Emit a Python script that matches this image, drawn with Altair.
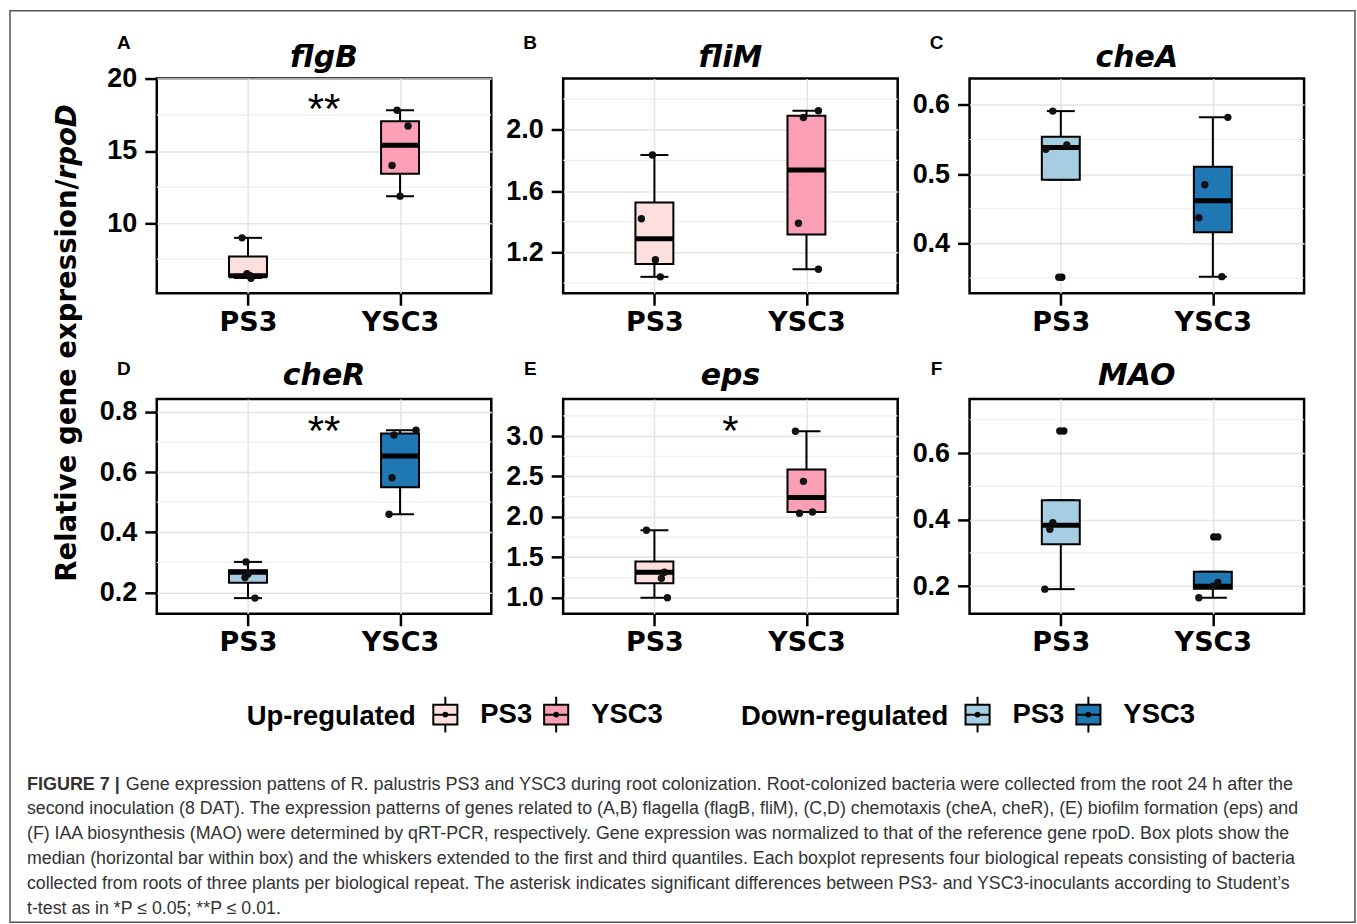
import altair as alt
import pandas as pd

FONT = "Liberation Sans"
WIDE = "DejaVu Sans"

genes = ["flgB", "fliM", "cheA", "cheR", "eps", "MAO"]
letters = ["A", "B", "C", "D", "E", "F"]
regulation = ["up", "up", "down", "down", "up", "down"]
strains = ["PS3", "YSC3"]
up_colors = ["#fde0dd", "#fa9fb5"]
down_colors = ["#a6cee3", "#1f78b4"]

# box statistics, order: flgB PS3, flgB YSC3, fliM PS3, ...
box_gene = [g for g in genes for _ in strains]
box_strain = strains * 6
box_lo = [6.20, 11.87, 1.040, 1.090, 0.492, 0.352, 0.182, 0.460, 1.000, 2.060, 0.191, 0.165]
box_q1 = [6.30, 13.42, 1.124, 1.317, 0.492, 0.416, 0.233, 0.550, 1.180, 2.060, 0.326, 0.192]
box_med = [6.35, 15.39, 1.289, 1.737, 0.5385, 0.4615, 0.268, 0.653, 1.315, 2.240, 0.383, 0.200]
box_q3 = [7.69, 17.06, 1.525, 2.091, 0.554, 0.5105, 0.274, 0.728, 1.450, 2.586, 0.458, 0.243]
box_hi = [8.98, 17.82, 1.835, 2.124, 0.591, 0.582, 0.302, 0.739, 1.835, 3.060, 0.458, 0.243]

# individual biological repeats (value, horizontal jitter)
pt_gene = [g for g in genes for _ in range(8)]
pt_strain = (["PS3"] * 4 + ["YSC3"] * 4) * 6
pt_value = [
    8.98, 6.50, 6.35, 6.18, 17.82, 16.73, 14.00, 11.87,
    1.835, 1.419, 1.152, 1.040, 2.124, 2.080, 1.390, 1.090,
    0.591, 0.536, 0.542, 0.351, 0.582, 0.4846, 0.437, 0.352,
    0.302, 0.262, 0.250, 0.182, 0.739, 0.723, 0.581, 0.460,
    1.835, 1.315, 1.240, 1.000, 3.060, 2.440, 2.045, 2.060,
    0.666, 0.391, 0.371, 0.191, 0.348, 0.211, 0.200, 0.165,
]
pt_jitter = [
    -6, -1, 2, 3, -3, 8, -8, 0,
    -2, -13, 1, 6, 12, -3, -8, 12,
    -8, -15, 6, -2, 15, -8, -14, 9,
    -2, 0, -3, 7, 16, -6, -8, -11,
    -8, 10, 7, 13, -11, -3, -7, 6,
    -1, -8, -11, -16, 5, 5, 0, -14,
]

out_gene = ["cheA", "MAO", "MAO"]
out_strain = ["PS3", "PS3", "YSC3"]
out_value = [0.351, 0.666, 0.348]
out_jitter = [1, 3, 1]

domains = [[5.14, 20.02], [0.933, 2.334], [0.328, 0.638], [0.130, 0.842], [0.802, 3.457], [0.117, 0.762]]
major = [[10, 15, 20], [1.2, 1.6, 2.0], [0.4, 0.5, 0.6], [0.2, 0.4, 0.6, 0.8],
         [1.0, 1.5, 2.0, 2.5, 3.0], [0.2, 0.4, 0.6]]
minor = [[7.5, 12.5, 17.5], [1.0, 1.4, 1.8, 2.2], [0.35, 0.45, 0.55], [0.3, 0.5, 0.7],
         [1.25, 1.75, 2.25, 2.75, 3.25], [0.3, 0.5, 0.7]]
fmts = ["d", ".1f", ".1f", ".1f", ".1f", ".1f"]
sig_label = ["**", "", "", "**", "*", ""]
sig_y = [16.94, 0, 0, 0.690, 2.889, 0]

caption_head = "FIGURE 7 |"
caption_first = ("Gene expression pattens of R. palustris PS3 and YSC3 during root colonization. "
                 "Root-colonized bacteria were collected from the root 24 h after the")
caption_rest = [
    "second inoculation (8 DAT). The expression patterns of genes related to (A,B) flagella (flagB, fliM), "
    "(C,D) chemotaxis (cheA, cheR), (E) biofilm formation (eps) and",
    "(F) IAA biosynthesis (MAO) were determined by qRT-PCR, respectively. Gene expression was normalized "
    "to that of the reference gene rpoD. Box plots show the",
    "median (horizontal bar within box) and the whiskers extended to the first and third quantiles. "
    "Each boxplot represents four biological repeats consisting of bacteria",
    "collected from roots of three plants per biological repeat. The asterisk indicates significant "
    "differences between PS3- and YSC3-inoculants according to Student\u2019s",
    "t-test as in *P \u2264 0.05; **P \u2264 0.01.",
]
ytitle_main = "Relative gene expression/"
ytitle_gene = "rpoD"

boxes = pd.DataFrame({"gene": box_gene, "strain": box_strain, "lo": box_lo, "q1": box_q1,
                      "med": box_med, "q3": box_q3, "hi": box_hi})
boxes["key"] = [regulation[genes.index(g)] + "|" + s for g, s in zip(box_gene, box_strain)]
points = pd.DataFrame({"gene": pt_gene, "strain": pt_strain, "v": pt_value, "jit": pt_jitter})
outliers = pd.DataFrame({"gene": out_gene, "strain": out_strain, "v": out_value, "jit": out_jitter})

W, H = 335, 215
BOX_PATH = ("M-0.67,-0.55H0.67V0.55H-0.67Z M0,-0.55V-1 M0,0.55V1 M-0.67,0H0.67 "
            "M-0.1,0A0.1,0.1 0 1,0 0.1,0A0.1,0.1 0 1,0 -0.1,0Z")
LABEL_EXPR = "split(datum.label, '|')[1]"

legend_up = alt.Legend(title="Up-regulated", orient="none", legendX=90, legendY=618, labelExpr=LABEL_EXPR)
legend_down = alt.Legend(title="Down-regulated", orient="none", legendX=585, legendY=618, labelExpr=LABEL_EXPR)


def one(text):
    return pd.DataFrame({"t": [text]})


def panel(i):
    g = genes[i]
    up = regulation[i] == "up"
    bx = boxes[boxes.gene == g]
    pts = points[points.gene == g]
    outl = outliers[outliers.gene == g]
    ysc = alt.Scale(domain=domains[i], nice=False, zero=False)
    yax = alt.Axis(title=None, values=major[i], format=fmts[i], grid=True, labelPadding=8)

    def Y(field):
        return alt.Y(field, scale=ysc, axis=yax)

    xenc = alt.X("strain:N", scale=alt.Scale(type="point", padding=0.6, domain=strains),
                 axis=alt.Axis(title=None, grid=True, labelAngle=0, labelPadding=4))
    layers = []
    layers.append(
        alt.Chart(pd.DataFrame({"v": minor[i]})).mark_rule(color="#eeeeee", strokeWidth=1.2).encode(
            y=Y("v:Q"))
    )
    layers.append(alt.Chart(bx).mark_rule(color="black", strokeWidth=2).encode(
        x=xenc, y=Y("lo:Q"), y2="hi:Q"))
    for fld in ["hi", "lo"]:
        layers.append(alt.Chart(bx).mark_tick(color="black", size=28, thickness=2, opacity=1,
                                              orient="horizontal").encode(x=xenc, y=Y(f"{fld}:Q")))
    if up:
        fill = alt.Fill("key:N", scale=alt.Scale(domain=["up|PS3", "up|YSC3"], range=up_colors),
                        legend=legend_up)
        bar = alt.Chart(bx).mark_bar(size=38, stroke="black", strokeWidth=2, opacity=1).encode(
            x=xenc, y=Y("q1:Q"), y2="q3:Q", fill=fill)
    else:
        col = alt.Color("key:N", scale=alt.Scale(domain=["down|PS3", "down|YSC3"], range=down_colors),
                        legend=legend_down)
        bar = alt.Chart(bx).mark_bar(size=38, stroke="black", strokeWidth=2, opacity=1).encode(
            x=xenc, y=Y("q1:Q"), y2="q3:Q", color=col)
    layers.append(bar)
    layers.append(alt.Chart(bx).mark_tick(color="black", size=38, thickness=5, opacity=1,
                                          orient="horizontal").encode(x=xenc, y=Y("med:Q")))
    if len(outl):
        layers.append(alt.Chart(outl).mark_circle(color="black", size=55, opacity=1).encode(
            x=xenc, xOffset=alt.XOffset("jit:Q", scale=None), y=Y("v:Q")))
    layers.append(alt.Chart(pts).mark_circle(color="#111111", size=55, opacity=1).encode(
        x=xenc, xOffset=alt.XOffset("jit:Q", scale=None), y=Y("v:Q")))
    if sig_label[i]:
        layers.append(alt.Chart(pd.DataFrame({"t": [sig_label[i]], "v": [sig_y[i]]})).mark_text(
            font=FONT, fontSize=42, color="black", baseline="alphabetic").encode(
            x=alt.value(W / 2), y=Y("v:Q"), text="t:N"))
    row = i // 3
    layers.append(alt.Chart(one(g)).mark_text(
        font=WIDE, fontSize=30, fontStyle="italic", fontWeight="bold", color="black", baseline="alphabetic").encode(
        x=alt.value(W / 2), y=alt.value(-12 if row == 0 else -14), text="t:N"))
    layers.append(alt.Chart(one(letters[i])).mark_text(
        font=FONT, fontSize=19, fontWeight="bold", color="black", baseline="middle").encode(
        x=alt.value(-33), y=alt.value(-36 if row == 0 else -30), text="t:N"))
    if i == 0:
        layers.append(alt.Chart(one("frame")).mark_rect(filled=False, stroke="#555555", strokeWidth=1.5).encode(
            x=alt.value(-147), x2=alt.value(1200), y=alt.value(-68), y2=alt.value(845)))
    if i == 3:
        layers.append(alt.Chart(one(ytitle_main)).mark_text(
            font=WIDE, fontSize=27.6, fontWeight="bold", color="black", angle=270, align="right",
            baseline="middle").encode(x=alt.value(-89), y=alt.value(-220), text="t:N"))
        layers.append(alt.Chart(one(ytitle_gene)).mark_text(
            font=WIDE, fontSize=27.6, fontWeight="bold", fontStyle="italic", color="black", angle=270,
            align="left", baseline="middle").encode(x=alt.value(-89), y=alt.value(-220), text="t:N"))
        layers.append(alt.Chart(one(caption_head)).mark_text(
            font=FONT, fontSize=18, fontWeight="bold", color="#333333", align="left",
            baseline="alphabetic").encode(x=alt.value(-130), y=alt.value(391), text="t:N"))
        layers.append(alt.Chart(one(caption_first)).mark_text(
            font=FONT, fontSize=18, color="#333333", align="left",
            baseline="alphabetic").encode(x=alt.value(-31), y=alt.value(391), text="t:N"))
        layers.append(alt.Chart(one("rest")).mark_text(
            font=FONT, fontSize=17.8, color="#333333", align="left", lineHeight=25,
            baseline="alphabetic", text=caption_rest).encode(x=alt.value(-130), y=alt.value(416)))
    return alt.layer(*layers).properties(width=W, height=H)


chart = alt.concat(
    *[panel(i) for i in range(6)], columns=3, bounds="flush",
    spacing={"row": 106, "column": 72},
).resolve_scale(fill="shared", color="shared").properties(
    padding={"left": 8, "top": 8, "right": 0, "bottom": 0}, background="white"
).configure_view(
    stroke="black", strokeWidth=2.5
).configure_axis(
    domain=False, tickColor="black", tickWidth=2.5, tickSize=12, labelFontSize=27,
    labelFontWeight="bold", labelColor="black", gridColor="#e4e4e4", gridWidth=1.5
).configure_axisX(
    labelFont=WIDE
).configure_axisY(
    labelFont=FONT
).configure_legend(
    titleFont=FONT, titleFontSize=27.5, titleFontWeight="bold", titleColor="black", titleLimit=500,
    labelFont=FONT, labelFontSize=27.5, labelFontWeight="bold", labelColor="black",
    symbolType=BOX_PATH, symbolSize=1296, symbolStrokeColor="black", symbolStrokeWidth=2,
    symbolOpacity=1, titleOrient="left", direction="horizontal", columnPadding=5,
    labelOffset=16, titlePadding=10
)

chart.save("out.html", embed_options={"renderer": "svg", "actions": False})
